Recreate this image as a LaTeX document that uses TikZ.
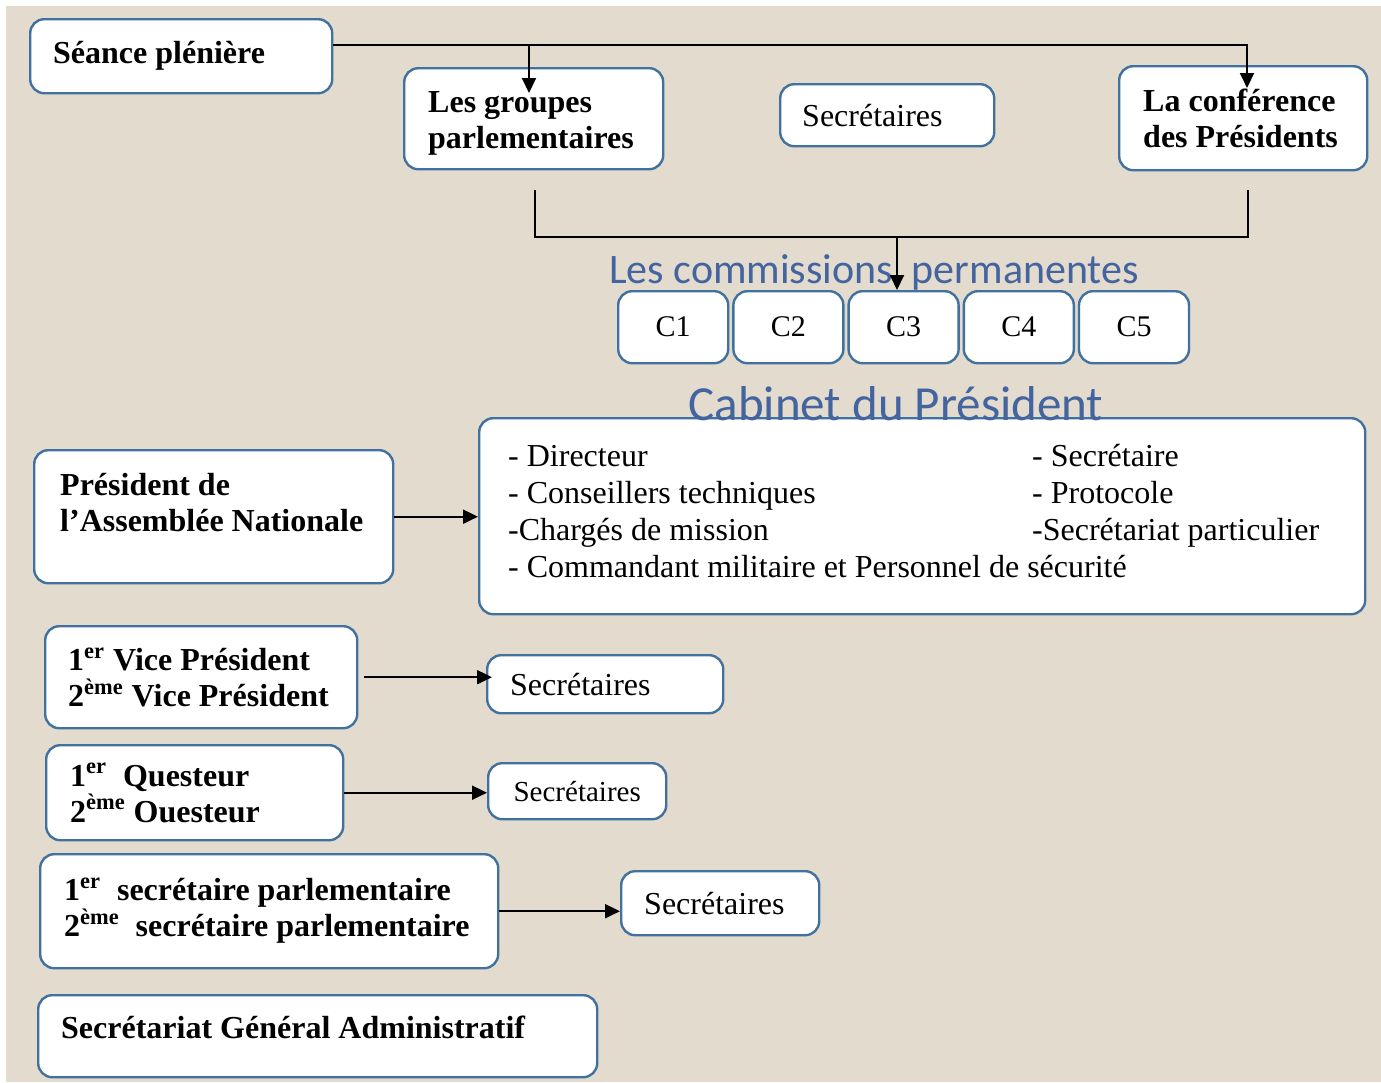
\documentclass[tikz,border=0pt]{standalone}
\usepackage{fontspec}
\setmainfont{Liberation Serif}
\newfontfamily\titrefont{Carlito}
\usetikzlibrary{arrows.meta, positioning}
\definecolor{bordure}{RGB}{65,113,158}
\definecolor{titrebleu}{RGB}{68,100,160}
\definecolor{fond}{RGB}{226,219,206}

\begin{document}
\begin{tikzpicture}[x=0.5pt, y=-0.5pt,
  boite/.style = {draw=bordure, line width=1.2pt, fill=white, rounded corners=7pt,
    anchor=north west, align=flush left, font=\fontsize{16}{18}\selectfont},
  gras/.style = {font=\fontsize{16}{18}\selectfont\bfseries},
  cbox/.style = {boite, align=center, minimum width=55pt, minimum height=36pt,
    font=\fontsize{15}{18}\selectfont},
  fleche/.style = {line width=1pt, -{Triangle[length=7.5pt, width=7pt]}},
  titre/.style = {text=titrebleu, font=\titrefont\fontsize{21}{24}\selectfont}]

  \fill[white] (0,0) rectangle (1381,1082);
  \fill[fond] (6,6) rectangle (1381,1082);
  \useasboundingbox (0,0) rectangle (1381,1082);

  \node[boite, gras, minimum height=37pt, inner xsep=11.5pt, text width=128pt] (seance) at (29,18) {Séance plénière};
  \node[boite, gras, minimum height=50.5pt, inner xsep=12pt, text width=105.5pt] (groupes) at (403,67) {Les groupes\\parlementaires\\[-19pt]\mbox{}};
  \node[boite, minimum height=31pt, inner xsep=11pt, text width=85pt] (secr1) at (779,83) {Secrétaires};
  \node[boite, gras, minimum height=52pt, inner xsep=12pt, text width=100pt] (conf) at (1118,65) {La conférence\\des Présidents};

  \node[titre] (commissions) at (874,272) {Les commissions\ \ permanentes};
  \node[cbox] (c1) at (617,290) {C1};
  \node[cbox, right=1.4pt of c1] (c2) {C2};
  \node[cbox, right=1.4pt of c2] (c3) {C3};
  \node[cbox, right=1.4pt of c3] (c4) {C4};
  \node[cbox, right=1.4pt of c4] (c5) {C5};

  \node[boite, minimum height=98pt, inner xsep=14.5pt, text width=414pt, font=\fontsize{16}{18.5}\selectfont] (cabinet) at (478,417)
    {\makebox[262pt][l]{- Directeur}- Secrétaire\\
     \makebox[262pt][l]{- Conseillers techniques}- Protocole\\
     \makebox[262pt][l]{-Chargés de mission}-Secrétariat particulier\\
     - Commandant militaire et Personnel de sécurité\\[-13pt]\mbox{}};
  \node[titre, font=\titrefont\fontsize{24.5}{28}\selectfont] (titrecabinet) at (896,404) {Cabinet du Président};

  \node[boite, gras, minimum height=66.5pt, inner xsep=13pt, text width=153.5pt] (president) at (33,449) {Président de\\l’Assemblée Nationale\\[-4pt]\mbox{}};

  \node[boite, gras, minimum height=51pt, inner xsep=11.5pt, text width=133pt] (vice) at (44,625)
    {1\textsuperscript{er} Vice Président\\2\textsuperscript{ème} Vice Président};
  \node[boite, minimum height=29pt, inner xsep=11.5pt, text width=95pt] (secr2) at (486,654) {Secrétaires};

  \node[boite, gras, minimum height=47.5pt, inner xsep=12pt, text width=124.5pt] (questeur) at (45,744)
    {1\textsuperscript{er}\ \ Questeur\\2\textsuperscript{ème} Ouesteur};
  \node[boite, align=center, minimum height=28pt, minimum width=89pt, font=\fontsize{14.5}{17}\selectfont] (secr3) at (487,762) {Secrétaires};

  \node[boite, gras, minimum height=57pt, inner xsep=12pt, text width=205pt] (parl) at (39,853)
    {\mbox{1\textsuperscript{er}\ \ secrétaire parlementaire}\\\mbox{2\textsuperscript{ème}\ \ secrétaire parlementaire}\\[-14pt]\mbox{}};
  \node[boite, minimum height=32pt, inner xsep=11.5pt, text width=76pt] (secr4) at (620,870) {Secrétaires};

  \node[boite, gras, minimum height=41pt, inner xsep=11.5pt, text width=256.5pt] (sga) at (37,994) {Secrétariat Général Administratif\\[-9pt]\mbox{}};

  \coordinate (depart) at ([yshift=5.5pt]seance.east);
  \coordinate (pointeGroupes) at (529,93);
  \coordinate (pointeConf) at (1247,88);
  \draw[fleche] (depart) -| (pointeConf);
  \draw[fleche] (depart -| pointeGroupes) -- (pointeGroupes);

  \coordinate (hautG) at (535,190);
  \coordinate (hautD) at (1248,190);
  \coordinate (jonction) at (897,237);
  \draw[line width=1pt] (hautG) |- (jonction) -| (hautD);
  \draw[fleche] (jonction) -- (jonction |- c3.north);

  \draw[fleche] (president.east) -- (president.east -| cabinet.west);
  \draw[fleche] ([xshift=3pt]vice.east) -- ([xshift=3pt]vice.east -| secr2.west);
  \draw[fleche] (questeur.east) -- (questeur.east -| secr3.west);
  \draw[fleche] (parl.east) -- (parl.east -| secr4.west);
\end{tikzpicture}
\end{document}
